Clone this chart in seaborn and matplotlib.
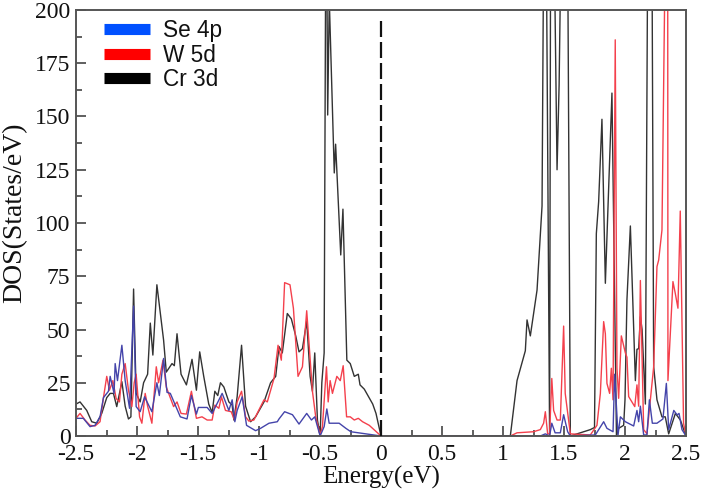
import pandas as pd
import matplotlib
matplotlib.use('Agg')
import matplotlib.pyplot as plt
from matplotlib.lines import Line2D
import seaborn as sns

# =============================================================================
# Values
# =============================================================================
cr_energy = [-2.5, -2.467, -2.412, -2.371, -2.33, -2.289, -2.248, -2.22, -2.193, -2.166, -2.124, -2.097,
             -2.07, -2.05, -2.028, -2.007, -1.974, -1.946, -1.913, -1.891, -1.87, -1.837, -1.815, -1.782,
             -1.76, -1.713, -1.694, -1.672, -1.639, -1.595, -1.549, -1.513, -1.486, -1.453, -1.412, -1.384,
             -1.362, -1.338, -1.316, -1.288, -1.247, -1.22, -1.206, -1.179, -1.143, -1.11, -1.069, -1.028,
             -0.959, -0.905, -0.863, -0.836, -0.809, -0.768, -0.735, -0.699, -0.672, -0.644, -0.609, -0.581,
             -0.562, -0.543, -0.521, -0.499, -0.485, -0.466, -0.453, -0.445, -0.437, -0.424, -0.383, -0.372,
             -0.33, -0.312, -0.28, -0.252, -0.219, -0.186, -0.172, -0.137, -0.068, -0.041, 0.0,
             1.0, 1.06, 1.115, 1.183, 1.197, 1.224, 1.279, 1.32, 1.333, 1.347, 1.355, 1.382, 1.39, 1.42, 1.443,
             1.46, 1.475, 1.53, 1.552, 1.716, 1.75, 1.765, 1.784, 1.811, 1.839, 1.893, 1.913, 1.93, 1.948,
             1.989, 2.0, 2.016, 2.044, 2.085, 2.098, 2.112, 2.126, 2.14, 2.167, 2.186, 2.221, 2.235, 2.262,
             2.303, 2.33, 2.358, 2.413, 2.454, 2.5]
cr_dos = [15, 16, 12, 6.7, 6, 10.6, 18, 20, 20, 13.8, 25.5, 14,
          8, 9, 69, 20, 16, 25, 29, 53, 38, 71, 60.6, 45,
          30, 34, 33, 48, 29, 24, 36, 21.5, 39.5, 28, 15, 11,
          21, 19, 25, 23, 16, 14.5, 7.5, 18.5, 42.6, 14, 6.7, 9,
          16, 25, 28, 42, 39, 57.5, 55, 47, 39.5, 41, 54, 28,
          21, 39, 7.5, 0, 25, 39, 230, 230, 150.7, 205, 123.5, 137,
          85, 106.5, 35.6, 34, 28, 29, 24, 22, 15, 10.6, 0,
          0, 0, 26, 40, 54.5, 47, 68.5, 108, 230, 205, 230, 0, 230, 230, 125,
          165, 230, 230, 0, 3, 4, 95, 110, 148.7, 71.7, 161, 73, 0, 3.6,
          5, 17, 64, 98.6, 26, 40.7, 41, 56, 50, 15, 230, 230, 32.5, 17,
          9, 9, 1, 10.6, 7.5, 0]

w_energy = [-2.5, -2.467, -2.426, -2.385, -2.344, -2.303, -2.275, -2.248, -2.226, -2.198, -2.171, -2.144,
            -2.124, -2.097, -2.07, -2.042, -2.023, -2.007, -1.979, -1.96, -1.933, -1.913, -1.878, -1.842,
            -1.823, -1.787, -1.76, -1.727, -1.7, -1.672, -1.639, -1.595, -1.554, -1.513, -1.467, -1.425,
            -1.384, -1.362, -1.329, -1.308, -1.275, -1.228, -1.201, -1.179, -1.143, -1.11, -1.083, -1.042,
            -0.959, -0.932, -0.877, -0.844, -0.817, -0.79, -0.746, -0.718, -0.68, -0.644, -0.609, -0.581,
            -0.562, -0.535, -0.499, -0.48, -0.447, -0.433, -0.417, -0.398, -0.362, -0.334, -0.31, -0.282,
            -0.252, -0.219, -0.186, -0.151, -0.096, 0.0,
            1.0, 1.06, 1.115, 1.25, 1.306, 1.333, 1.347, 1.366, 1.382, 1.4, 1.415, 1.443, 1.47, 1.497, 1.51,
            1.552, 1.716, 1.77, 1.798, 1.825, 1.839, 1.852, 1.874, 1.888, 1.902, 1.92, 1.934, 1.948, 1.97,
            2.003, 2.016, 2.03, 2.08, 2.098, 2.112, 2.126, 2.153, 2.18, 2.208, 2.235, 2.262, 2.276, 2.303,
            2.33, 2.35, 2.352, 2.393, 2.412, 2.434, 2.453, 2.48, 2.5]
w_dos = [8.3, 10.6, 7.5, 5, 4.7, 6.7, 18, 28, 21.5, 26, 17.6, 16,
         29, 34, 21.5, 13.8, 25, 29, 9, 6, 20, 14, 6, 32.5,
         25, 35.6, 23, 18, 13.8, 16, 10.6, 10.3, 21, 8.3, 9, 7.5,
         7.5, 14.5, 13, 18.4, 12, 11.4, 7.5, 16, 21, 9, 7, 7.5,
         17, 16, 27, 42.6, 35.6, 72, 71, 60, 28, 32.5, 58.8, 36.4,
         21, 9, 0.5, 4.4, 32.5, 16, 26, 20, 28, 26, 33, 9,
         9, 7.5, 8.3, 6.7, 5, 0,
         0, 0, 1.5, 2, 3, 6, 11.4, 1, 1, 27, 12, 7.5, 7.5, 51.6, 20,
         1, 0.5, 5, 20, 53.7, 48, 24.7, 20, 31.8, 17, 186, 32, 17.7, 47,
         39, 37, 18.5, 13.8, 24, 14, 73, 3, 1, 17, 32.5, 79.5, 82.6, 96.7,
         230, 230, 26, 72.5, 67, 60, 105.6, 6, 0]

se_energy = [-2.5, -2.44, -2.385, -2.344, -2.303, -2.275, -2.234, -2.22, -2.188, -2.179, -2.16, -2.124,
             -2.097, -2.061, -2.028, -2.007, -1.974, -1.938, -1.878, -1.837, -1.817, -1.782, -1.754, -1.727,
             -1.686, -1.645, -1.59, -1.554, -1.513, -1.497, -1.425, -1.384, -1.302, -1.247, -1.22, -1.198,
             -1.179, -1.138, -1.102, -1.028, -0.987, -0.918, -0.85, -0.836, -0.79, -0.726, -0.672, -0.609,
             -0.57, -0.543, -0.499, -0.466, -0.444, -0.425, -0.343, -0.288, -0.247, 0.0,
             1.0, 1.306, 1.347, 1.382, 1.4, 1.427, 1.47, 1.497, 1.53, 1.552, 1.757, 1.825, 1.852, 1.902, 1.915,
             1.943, 1.962, 2.003, 2.071, 2.098, 2.112, 2.126, 2.153, 2.18, 2.2, 2.224, 2.262, 2.311, 2.339,
             2.358, 2.4, 2.427, 2.443, 2.467, 2.5]
se_dos = [8.3, 8.3, 4.4, 5, 9, 18, 21, 28, 20, 34, 26, 42.6,
          26, 13, 61, 13.8, 11.4, 18.4, 11.4, 25, 19, 36.4, 20.5, 20,
          14.5, 9, 8, 19, 10.3, 13.4, 13.4, 10.6, 20, 12, 17, 6.7,
          12, 18.4, 5, 2.5, 3.6, 6, 6.7, 8, 11.4, 10, 5.6, 10.6,
          7.5, 9, 0, 4.4, 12.7, 6, 6, 3.6, 2, 0,
          0, 0, 1, 0, 6, 1.5, 1.5, 10, 2, 0, 0.5, 6.7, 3.6, 2, 29,
          0.5, 9, 6.7, 4.7, 12, 6.7, 14, 0.5, 0.5, 17, 6, 6, 8, 24.7,
          3, 12, 9.9, 10.6, 3, 0]

x_ticks = [-2.5, -2, -1.5, -1, -0.5, 0, 0.5, 1, 1.5, 2, 2.5]
x_tick_labels = ['-2.5', '-2', '-1.5', '-1', '-0.5', '0', '0.5', '1', '1.5', '2', '2.5']
y_ticks = [0, 25, 50, 75, 100, 125, 150, 175, 200]
fermi_energy = 0
fermi_top = 196.5

# =============================================================================
# Table for seaborn
# =============================================================================
dos_df = pd.concat([
    pd.DataFrame({'energy': cr_energy, 'dos': cr_dos, 'orbital': 'Cr 3d'}),
    pd.DataFrame({'energy': w_energy, 'dos': w_dos, 'orbital': 'W 5d'}),
    pd.DataFrame({'energy': se_energy, 'dos': se_dos, 'orbital': 'Se 4p'}),
], ignore_index=True)

sns.set_theme(style='white')

# =============================================================================
# Plot
# =============================================================================
fig, ax = plt.subplots(figsize=(7.03, 4.9), dpi=100)
fig.subplots_adjust(left=76 / 703, right=686 / 703, top=1 - 10 / 490, bottom=1 - 436 / 490)

# Cr first so that W and Se end up on top of it
sns.lineplot(data=dos_df, x='energy', y='dos', hue='orbital',
             hue_order=['Cr 3d', 'W 5d', 'Se 4p'],
             palette={'Cr 3d': '#333333', 'W 5d': '#f4404c', 'Se 4p': '#4444aa'},
             estimator=None, sort=False, linewidth=1.0, legend=False, ax=ax)

ax.plot([fermi_energy, fermi_energy], [0, fermi_top], color='#111111', lw=1.6,
        dashes=(7.2, 2.25), zorder=5)

ax.set_xlim(-2.5, 2.5)
ax.set_ylim(0, 200)
ax.set_xticks(x_ticks)
ax.set_xticklabels(x_tick_labels)
ax.set_yticks(y_ticks)
ax.set_xticks([t + 0.25 for t in x_ticks[:-1]], minor=True)
ax.set_yticks([t + 12.5 for t in y_ticks[:-1]], minor=True)

serif = ['Liberation Serif', 'DejaVu Serif']
ax.tick_params(axis='both', which='major', direction='in', length=7, width=1.2,
               color='#444444', labelsize=17, labelcolor='#111111', bottom=True, left=True)
ax.tick_params(axis='x', which='major', pad=6)
ax.tick_params(axis='y', which='major', pad=4)
ax.tick_params(axis='both', which='minor', direction='in', length=4.5, width=1.2,
               color='#444444', bottom=True, left=True)
for label in ax.get_xticklabels() + ax.get_yticklabels():
    label.set_family(serif)

ax.set_xlabel('Energy(eV)', family=serif, fontsize=18, color='#111111', labelpad=0.5)
ax.set_ylabel('DOS(States/eV)', family=serif, fontsize=20, color='#111111')
ax.yaxis.set_label_coords(-0.08, 0.523)

for side in ax.spines:
    ax.spines[side].set_color('#555555')
    ax.spines[side].set_linewidth(1.4)

# Legend swatches are brighter than the lines in the plot
legend_handles = [
    Line2D([], [], color='#0050ff', lw=8, solid_capstyle='butt'),
    Line2D([], [], color='#ff0000', lw=8, solid_capstyle='butt'),
    Line2D([], [], color='#000000', lw=8, solid_capstyle='butt'),
]
ax.legend(legend_handles, ['Se 4p', 'W 5d', 'Cr 3d'], loc='upper left',
          bbox_to_anchor=(0.046, 0.978), frameon=False, handlelength=2.03, handletextpad=0.58,
          labelspacing=0.05, borderpad=0, borderaxespad=0,
          prop={'family': ['Liberation Sans', 'DejaVu Sans'], 'size': 16.3}, labelcolor='#111111')

plt.savefig('out.png', dpi=100)
